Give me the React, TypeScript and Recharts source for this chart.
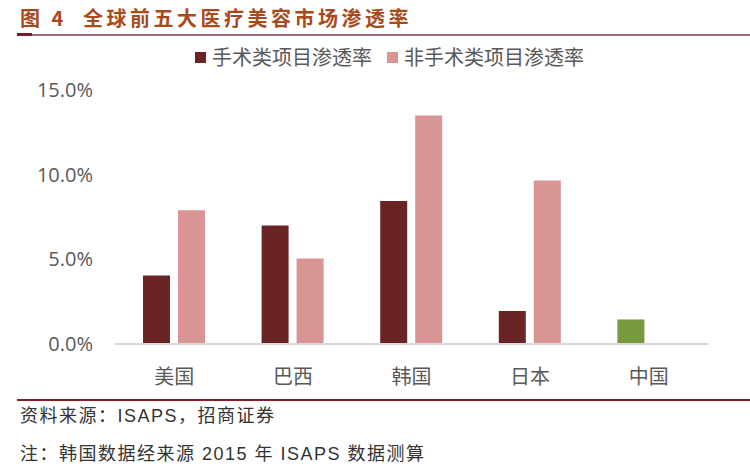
import React from 'react';
import { BarChart, Bar, XAxis, YAxis, Legend, Cell } from 'recharts';

const categories = ['美国', '巴西', '韩国', '日本', '中国'];
const surgical = [4.05, 7.0, 8.45, 1.95, 1.45];
const nonSurgical: (number | null)[] = [7.9, 5.05, 13.5, 9.65, null];
const yTicks = [0, 5, 10, 15];
const seriesNames = ['手术类项目渗透率', '非手术类项目渗透率'];
const titleText = '图 4  全球前五大医疗美容市场渗透率';
const sourceText = '资料来源：ISAPS，招商证券';
const noteText = '注：韩国数据经来源 2015 年 ISAPS 数据测算';

const DARK = '#6A2426';
const LIGHT = '#D99494';
const GREEN = '#779A3E';

const data = categories.map((c, i) => ({
  name: c,
  surgical: surgical[i],
  nonSurgical: nonSurgical[i],
}));

const FONT = '"Noto Sans CJK SC", "Open Sans", sans-serif';
const FOOT_FONT = '"Liberation Sans", "Noto Sans CJK SC", sans-serif';

const LegendContent = (props: any) => {
  const payload = props.payload || [];
  return (
    <div style={{ display: 'flex', alignItems: 'center', paddingLeft: 195, fontFamily: FONT }}>
      {payload.map((p: any, i: number) => (
        <div key={i} style={{ display: 'flex', alignItems: 'center', marginRight: 15 }}>
          <div style={{ width: 11, height: 11, background: p.color, marginRight: 6 }} />
          <span style={{ fontSize: 20, color: '#595959', lineHeight: '24px' }}>{p.value}</span>
        </div>
      ))}
    </div>
  );
};

export default function App() {
  return (
    <div style={{ position: 'absolute', left: 0, top: 0, width: 750, height: 466, background: '#fff', fontFamily: FONT, overflow: 'hidden' }}>
      <div style={{ position: 'absolute', left: 20, top: 4, fontSize: 20, fontWeight: 700, color: '#A84A1A', letterSpacing: 3.5, whiteSpace: 'pre', lineHeight: '28px' }}>
        {titleText}
      </div>
      <div style={{ position: 'absolute', left: 17, top: 34, width: 733, height: 2, background: '#8E7076' }} />
      <div style={{ position: 'absolute', left: 17, top: 33, width: 15, height: 3, background: '#7A1C28' }} />
      <div style={{ position: 'absolute', left: 0, top: 0 }}>
        <BarChart width={750} height={466} data={data} margin={{ top: 90, right: 42, bottom: 92, left: 55 }} barSize={27} barGap={8}>
          <XAxis
            dataKey="name"
            tickLine={false}
            axisLine={{ stroke: '#D9D9D9', strokeWidth: 2 }}
            tick={{ fontSize: 20, fill: '#595959', fontFamily: FONT }}
            tickMargin={20}
            height={30}
          />
          <YAxis
            domain={[0, 15]}
            ticks={yTicks}
            width={60}
            axisLine={false}
            tickLine={false}
            tickMargin={16}
            tickFormatter={(v: number) => v.toFixed(1) + '%'}
            tick={{ fontSize: 20, fill: '#595959', fontFamily: '"Open Sans", sans-serif' }}
          />
          <Legend
            layout="vertical"
            verticalAlign="middle"
            align="center"
            wrapperStyle={{ top: 45, left: 0, width: 750 }}
            content={<LegendContent />}
          />
          <Bar dataKey="surgical" name={seriesNames[0]} fill={DARK} isAnimationActive={false}>
            {data.map((d, i) => (
              <Cell key={i} fill={d.name === '中国' ? GREEN : DARK} />
            ))}
          </Bar>
          <Bar dataKey="nonSurgical" name={seriesNames[1]} fill={LIGHT} isAnimationActive={false} />
        </BarChart>
      </div>
      <div style={{ position: 'absolute', left: 17, top: 399, width: 733, height: 2, background: '#8B1F1F' }} />
      <div style={{ position: 'absolute', left: 20, top: 405, fontSize: 18, color: '#333', letterSpacing: 1.5, whiteSpace: 'pre', lineHeight: '22px', fontFamily: FOOT_FONT }}>
        {sourceText}
      </div>
      <div style={{ position: 'absolute', left: 20, top: 443, fontSize: 18, color: '#333', letterSpacing: 1.5, whiteSpace: 'pre', lineHeight: '22px', fontFamily: FOOT_FONT }}>
        {noteText}
      </div>
    </div>
  );
}
